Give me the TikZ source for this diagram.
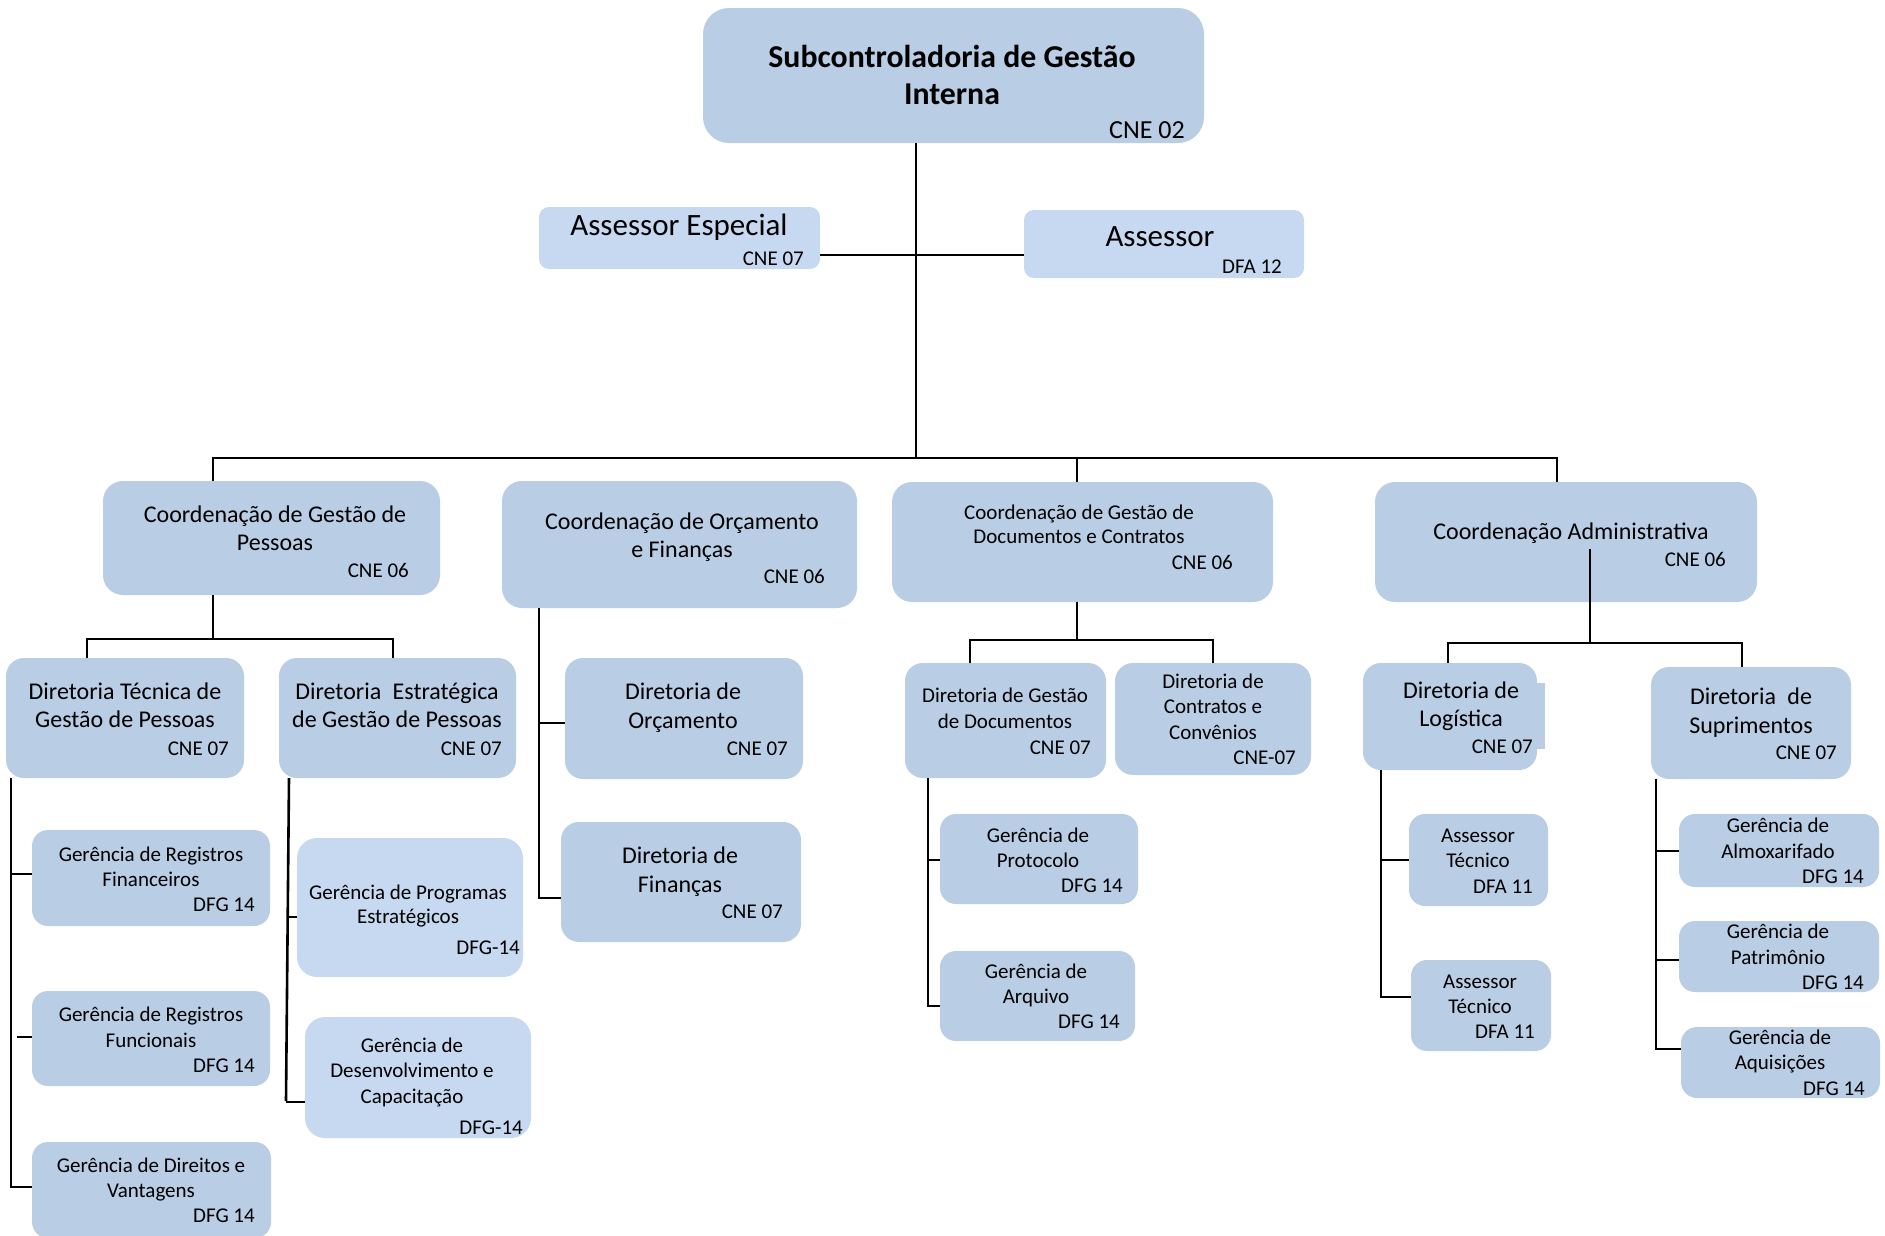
\documentclass[tikz,border=0pt]{standalone}
\usepackage{fontspec}
\setmainfont{Carlito}
\definecolor{boxA}{HTML}{B9CDE5}
\definecolor{boxB}{HTML}{C6D9F1}
\tikzset{
  dk/.style={fill=boxA, draw=none, rounded corners=#1, inner sep=0pt},
  dk/.default=16pt,
  lt/.style={fill=boxB, draw=none, rounded corners=#1, inner sep=0pt},
  lt/.default=16pt,
  ln/.style={line width=2.6pt, black},
  ttl/.style={font=\bfseries\fontsize{31.8}{38}\selectfont, inner sep=0pt},
  huge/.style={font=\fontsize{31}{37}\selectfont, inner sep=0pt},
  big/.style={font=\fontsize{24}{29}\selectfont, inner sep=0pt},
  sml/.style={font=\fontsize{21}{25}\selectfont, inner sep=0pt},
  cd/.style={font=\fontsize{21}{25}\selectfont, inner sep=0pt, anchor=base east},
  cdbig/.style={font=\fontsize{26}{31}\selectfont, inner sep=0pt, anchor=base east},
}
\newcommand\obox[6]{\node[#2, minimum width={(#5)-(#3)}, minimum height={(#6)-(#4)}] (#1) at ({((#3)+(#5))/2},{((#4)+(#6))/2}) {};}
\newcommand\tlines[6]{\foreach \l [count=\i] in {#6} {\node[#2, anchor=base] (#1-\i) at (#3,{(#4)+(\i-1)*(#5)}) {\l};}}
\newcommand\code[5][cd]{\node[#1] (#2-c) at (#3,#4) {#5};}
\begin{document}
\begin{tikzpicture}[x=1pt,y=-1pt]
\useasboundingbox (0,0) rectangle (1885,1235);
% ---------- boxes ----------
\obox{T}{dk=26pt}{703}{8}{1204}{143}
\obox{AE}{lt=10pt}{539}{207}{820}{269}
\obox{AS}{lt=10pt}{1024}{210}{1304}{278}
\obox{CGP}{dk=20pt}{103}{481}{440}{595}
\obox{COF}{dk=20pt}{502}{481}{857}{608}
\obox{CGDC}{dk=20pt}{892}{482}{1273}{602}
\obox{CA}{dk=20pt}{1375}{482}{1757}{602}
\obox{DTGP}{dk=18pt}{6}{658}{244}{778}
\obox{DEGP}{dk=18pt}{279}{658}{516}{778}
\obox{DO}{dk=18pt}{565}{658}{803}{779}
\obox{DF}{dk=18pt}{561}{822}{801}{942}
\obox{DGD}{dk=18pt}{905}{663}{1106}{778}
\obox{DCC}{dk=18pt}{1115}{663}{1311}{775}
\obox{DL}{dk=18pt}{1363}{663}{1537}{770}
\fill[boxA] (1530,683) rectangle (1545,749);
\obox{DS}{dk=18pt}{1651}{667}{1851}{779}
\obox{GRF}{dk=16pt}{32}{830}{270}{926}
\obox{GRFu}{dk=16pt}{32}{991}{270}{1086}
\obox{GDV}{dk=16pt}{32}{1142}{271}{1238}
\obox{GPE}{lt=20pt}{297}{838}{523}{977}
\obox{GDC}{lt=20pt}{305}{1017}{531}{1138}
\obox{GP}{dk=16pt}{940}{814}{1138}{904}
\obox{GA}{dk=16pt}{940}{951}{1135}{1041}
\obox{AT1}{dk=16pt}{1409}{814}{1548}{906}
\obox{AT2}{dk=16pt}{1411}{960}{1551}{1051}
\obox{GAl}{dk=16pt}{1679}{814}{1879}{887}
\obox{GPa}{dk=16pt}{1679}{921}{1879}{992}
\obox{GAq}{dk=16pt}{1681}{1027}{1880}{1098}
% ---------- texts ----------
\tlines{T}{ttl}{952}{67}{37.5}{Subcontroladoria de Gestão,Interna}
\code[cdbig]{T}{1185}{138}{CNE 02}
\tlines{AE}{huge}{679}{235}{0}{Assessor Especial}
\code{AE}{804}{265}{CNE 07}
\tlines{AS}{huge}{1160}{246}{0}{Assessor}
\code{AS}{1282}{273}{DFA 12}
\tlines{CGP}{big}{275}{522}{28}{Coordenação de Gestão de,Pessoas}
\code{CGP}{409}{577}{CNE 06}
\tlines{COF}{big}{682}{529}{28}{Coordenação de Orçamento,e Finanças}
\code{COF}{825}{583}{CNE 06}
\tlines{CGDC}{sml}{1079}{519}{24.5}{Coordenação de Gestão de,Documentos e Contratos}
\code{CGDC}{1233}{569}{CNE 06}
\tlines{CA}{big}{1571}{539}{0}{Coordenação Administrativa}
\code{CA}{1726}{566}{CNE 06}
\tlines{DTGP}{big}{125}{699}{28}{Diretoria Técnica de,Gestão de Pessoas}
\code{DTGP}{229}{755}{CNE 07}
\tlines{DEGP}{big}{397}{699}{28}{Diretoria\hspace{0.25em} Estratégica,de Gestão de Pessoas}
\code{DEGP}{502}{755}{CNE 07}
\tlines{DO}{big}{683}{699}{29}{Diretoria de,Orçamento}
\code{DO}{788}{755}{CNE 07}
\tlines{DF}{big}{680}{863}{29}{Diretoria de,Finanças}
\code{DF}{783}{918}{CNE 07}
\tlines{DGD}{sml}{1005}{702}{26}{Diretoria de Gestão,de Documentos}
\code{DGD}{1091}{754}{CNE 07}
\tlines{DCC}{sml}{1213}{688}{25.5}{Diretoria de,Contratos e,Convênios}
\code{DCC}{1296}{764}{CNE-07}
\tlines{DL}{big}{1461}{698}{28}{Diretoria de,Logística}
\code{DL}{1533}{753}{CNE 07}
\tlines{DS}{big}{1751}{704}{29}{Diretoria\hspace{0.25em} de,Suprimentos}
\code{DS}{1837}{759}{CNE 07}
\tlines{GRF}{sml}{151}{861}{25}{Gerência de Registros,Financeiros}
\code{GRF}{255}{911}{DFG 14}
\tlines{GRFu}{sml}{151}{1021}{26}{Gerência de Registros,Funcionais}
\code{GRFu}{255}{1072}{DFG 14}
\tlines{GDV}{sml}{151}{1172}{25}{Gerência de Direitos e,Vantagens}
\code{GDV}{255}{1222}{DFG 14}
\tlines{GPE}{sml}{408}{899}{24.5}{Gerência de Programas,Estratégicos}
\code{GPE}{520}{954}{DFG-14}
\tlines{GDC}{sml}{412}{1052}{25.5}{Gerência de,Desenvolvimento e,Capacitação}
\code{GDC}{523}{1134}{DFG-14}
\tlines{GP}{sml}{1038}{842}{25}{Gerência de,Protocolo}
\code{GP}{1123}{892}{DFG 14}
\tlines{GA}{sml}{1036}{978}{25}{Gerência de,Arquivo}
\code{GA}{1120}{1028}{DFG 14}
\tlines{AT1}{sml}{1478}{842}{25}{Assessor,Técnico}
\code{AT1}{1533}{893}{DFA 11}
\tlines{AT2}{sml}{1480}{988}{25}{Assessor,Técnico}
\code{AT2}{1535}{1038}{DFA 11}
\tlines{GAl}{sml}{1778}{832}{26}{Gerência de,Almoxarifado}
\code{GAl}{1864}{883}{DFG 14}
\tlines{GPa}{sml}{1778}{938}{26}{Gerência de,Patrimônio}
\code{GPa}{1864}{989}{DFG 14}
\tlines{GAq}{sml}{1780}{1044}{25}{Gerência de,Aquisições}
\code{GAq}{1865}{1095}{DFG 14}
% ---------- connectors ----------
\coordinate (bus) at (916,458);
\coordinate (b1) at (213,458);
\coordinate (b3) at (1077,458);
\coordinate (b4) at (1557,458);
\coordinate (ay) at (916,255);
\draw[ln] (T.south -| bus) -- (bus);
\draw[ln] (AE.east |- ay) -- (AS.west |- ay);
\draw[ln] (CGP.north -| b1) |- (b4) -- (CA.north -| b4);
\draw[ln] (b3) -- (CGDC.north -| b3);
% CGP
\coordinate (c1) at (213,639);
\coordinate (c1a) at (87,639);
\coordinate (c1b) at (393,639);
\draw[ln] (CGP.south -| c1) -- (c1);
\draw[ln] (DTGP.north -| c1a) |- (c1b) -- (DEGP.north -| c1b);
% COF
\coordinate (c2a) at (539,723);
\coordinate (c2b) at (539,898);
\draw[ln] (COF.south -| c2b) -- (c2b) -- (DF.west |- c2b);
\draw[ln] (c2a) -- (DO.west |- c2a);
% CGDC
\coordinate (c3) at (1077,640);
\coordinate (c3a) at (970,640);
\coordinate (c3b) at (1213,640);
\draw[ln] (CGDC.south -| c3) -- (c3);
\draw[ln] (DGD.north -| c3a) |- (c3b) -- (DCC.north -| c3b);
% CA
\coordinate (c4t) at (1590,549);
\coordinate (c4) at (1590,643);
\coordinate (c4a) at (1448,643);
\coordinate (c4b) at (1742,643);
\draw[ln] (c4t) -- (c4);
\draw[ln] (DL.north -| c4a) |- (c4b) -- (DS.north -| c4b);
% DTGP
\coordinate (d1b) at (11,1188);
\coordinate (d1a) at (11,874);
\coordinate (d1c) at (17,1037);
\draw[ln] (DTGP.south -| d1b) -- (d1b);
\draw[ln] (d1a) -- (GRF.west |- d1a);
\draw[ln] (d1c) -- (GRFu.west |- d1c);
\draw[ln] (11,1187) coordinate (d1d) -- (GDV.west |- d1d);
% DEGP
\coordinate (d2t) at (289,778);
\coordinate (d2b) at (286,1101);
\coordinate (d2a) at (288,917);
\coordinate (d2c) at (286,1102);
\draw[ln] (d2t) -- (d2b);
\draw[ln] (d2a) -- (GPE.west |- d2a);
\draw[ln] (d2c) -- (GDC.west |- d2c);
% DGD
\coordinate (d3b) at (928,1006);
\coordinate (d3a) at (928,860);
\draw[ln] (DGD.south -| d3b) -- (d3b) -- (GA.west |- d3b);
\draw[ln] (d3a) -- (GP.west |- d3a);
% DL
\coordinate (d4b) at (1381,998);
\coordinate (d4a) at (1381,860);
\coordinate (d4c) at (1381,997);
\draw[ln] (DL.south -| d4b) -- (d4b);
\draw[ln] (d4a) -- (AT1.west |- d4a);
\draw[ln] (d4c) -- (AT2.west |- d4c);
% DS
\coordinate (d5b) at (1656,1049);
\coordinate (d5a) at (1656,851);
\coordinate (d5c) at (1656,960);
\draw[ln] (DS.south -| d5b) -- (d5b) -- (GAq.west |- d5b);
\draw[ln] (d5a) -- (GAl.west |- d5a);
\draw[ln] (d5c) -- (GPa.west |- d5c);
\end{tikzpicture}
\end{document}
